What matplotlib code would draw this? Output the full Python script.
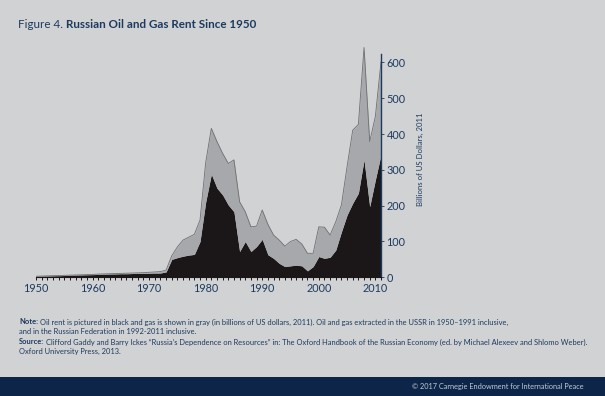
import numpy as np
import matplotlib.pyplot as plt
from matplotlib.ticker import MultipleLocator

plt.rcParams['font.family'] = ['Lato', 'DejaVu Sans']

# Datos (miles de millones de USD de 2011)
anios = list(range(1950, 2012))
total = [3, 3.5, 4, 4.5, 5, 5.5, 6, 6.5, 7, 7.5,
         8, 9, 9.5, 10, 10.5, 11, 11.5, 12, 12.5, 13,
         14, 15, 16, 20, 60, 85, 104, 112, 120, 160,
         320, 416, 379, 346, 318, 328, 211, 183, 141, 143,
         188, 148, 118, 104, 87, 100, 106, 93, 67, 67,
         141, 140, 118, 155, 202, 309, 411, 427, 642, 379,
         449, 602]
petroleo = [2.5, 3, 3.5, 4, 4.5, 5, 5.5, 6, 6.5, 7,
            7.5, 8, 8.5, 9, 9.5, 10, 10, 10.5, 11, 11,
            11.5, 12, 12, 15, 50, 55, 59, 62, 64, 100,
            210, 288, 249, 230, 202, 183, 72, 100, 72, 86,
            106, 63, 53, 39, 30, 32, 34, 32, 18, 30,
            58, 53, 56, 76, 127, 174, 207, 235, 328, 197,
            272, 342]
ticks_y = [0, 100, 200, 300, 400, 500, 600]

FONDO = '#d1d2d4'
AZUL = '#1c3a5e'
NEGRO = '#1b1617'
GRIS = '#a7a8ab'

fig = plt.figure(figsize=(6.05, 3.96), dpi=100, facecolor=FONDO)
ax = fig.add_axes([36 / 605, 1 - 277.3 / 396, 345 / 605, 236.3 / 396])
ax.set_facecolor(FONDO)

ax.fill_between(anios, 0, petroleo, color=NEGRO, linewidth=0)
ax.fill_between(anios, petroleo, total, color=GRIS, linewidth=0)
ax.plot(anios, total, color='#6e6f71', linewidth=0.6)

ax.set_xlim(1950, 2011)
ax.set_ylim(0, 660)

for lado in ['top', 'left']:
    ax.spines[lado].set_visible(False)
ax.spines['right'].set_bounds(0, 625)
ax.spines['right'].set_color(AZUL)
ax.spines['right'].set_linewidth(1.0)
ax.spines['bottom'].set_color(NEGRO)

ax.xaxis.set_major_locator(MultipleLocator(10))
ax.xaxis.set_minor_locator(MultipleLocator(1))
ax.tick_params(axis='x', which='both', direction='out', length=2.5, width=0.7,
               color=NEGRO, labelcolor=AZUL, labelsize=7.8, pad=1.5)
ax.yaxis.tick_right()
ax.set_yticks(ticks_y)
ax.tick_params(axis='y', direction='out', length=2, width=0.6, color=AZUL,
               labelcolor=AZUL, labelsize=7.8, pad=2)
ax.yaxis.set_label_position('right')
ax.set_ylabel('Billions of US Dollars, 2011', color=AZUL, fontsize=5.6, labelpad=8)

# Título con parte en negrita
renderer = fig.canvas.get_renderer()
t1 = fig.text(18 / 605, 1 - 25 / 396, 'Figure 4. ', color=AZUL, fontsize=8.4,
              va='center', ha='left')
bb = t1.get_window_extent(renderer)
fig.text(bb.x1 / fig.bbox.width, 1 - 25 / 396, 'Russian Oil and Gas Rent Since 1950',
         color=AZUL, fontsize=8.4, fontweight='bold', va='center', ha='left')

TAM_NOTA = 5.45


def linea(x, y, negrita, resto):
    pos_y = 1 - y / 396
    if negrita:
        t = fig.text(x / 605, pos_y, negrita, color=AZUL, fontsize=TAM_NOTA,
                     fontweight='bold', va='center', ha='left')
        x = t.get_window_extent(renderer).x1 + 1.5
    fig.text(x / 605, pos_y, resto, color=AZUL, fontsize=TAM_NOTA, va='center', ha='left')


linea(19, 322, 'Note:', 'Oil rent is pictured in black and gas is shown in gray (in billions of US dollars, 2011). '
      'Oil and gas extracted in the USSR in 1950–1991 inclusive,')
linea(19, 331, '', 'and in the Russian Federation in 1992-2011 inclusive.')
linea(19, 342, 'Source:', 'Clifford Gaddy and Barry Ickes “Russia’s Dependence on Resources” in: '
      'The Oxford Handbook of the Russian Economy (ed. by Michael Alexeev and Shlomo Weber).')
linea(19, 351, '', 'Oxford University Press, 2013.')

# Franja inferior
fig.patches.append(plt.Rectangle((0, 0), 1, 19 / 396, transform=fig.transFigure,
                                 facecolor='#0c2548', edgecolor='none'))
fig.text(584 / 605, 1 - 386 / 396, '© 2017 Carnegie Endowment for International Peace',
         color='#c5cad3', fontsize=5.35, va='center', ha='right')

fig.savefig('out.png', dpi=100, facecolor=FONDO)
